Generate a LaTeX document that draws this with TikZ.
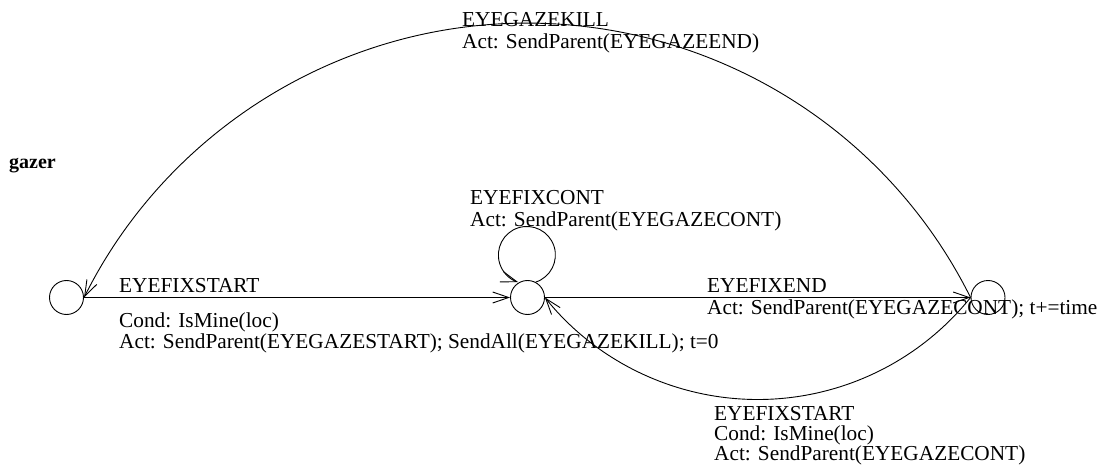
\documentclass[tikz,border=0pt]{standalone}
\usepackage{fontspec}
\setmainfont{Liberation Serif}
\usetikzlibrary{arrows.meta}
\begin{document}
\begin{tikzpicture}[x=1pt,y=1pt,
  state/.style={circle, draw, line width=0.9pt, minimum size=34pt, inner sep=0pt},
  lbl/.style={anchor=base west, inner sep=0pt, font=\fontsize{21.3}{24}\selectfont},
  ttl/.style={anchor=base west, inner sep=0pt, font=\fontsize{20}{24}\selectfont\bfseries},
  trans/.style={line width=0.9pt, -{Straight Barb[length=16pt,width=11pt]}}]
\useasboundingbox (0,0) rectangle (1101,472);
\node[state] (A) at (66.5,174.5) {};
\node[state] (B) at (527.5,174.5) {};
\node[state] (C) at (988,174.5) {};
% transitions
\draw[trans] (A) -- (B);
\draw[trans] (B) -- (C);
\draw[trans] (C.west) arc[start angle=26.5, end angle=153.5, radius=495.3];
\draw[trans] (C.west) arc[start angle=-38.78, end angle=-141.22, radius=273];
\draw[trans] (B.62) arc[start angle=-72, end angle=252, radius=28.5];
% labels
\node[ttl] (gazer) at (9,303) {gazer};
\node[lbl] (kill1) at (462,445) {EYEGAZEKILL};
\node[lbl] (kill2) at (462,423) {Act: SendParent(EYEGAZEEND)};
\node[lbl] (cont1) at (470,267) {EYEFIXCONT};
\node[lbl] (cont2) at (470,245) {Act: SendParent(EYEGAZECONT)};
\node[lbl] (start1) at (119,180) {EYEFIXSTART};
\node[lbl] (start2) at (119,145) {Cond: IsMine(loc)};
\node[lbl] (start3) at (119,124) {Act: SendParent(EYEGAZESTART); SendAll(EYEGAZEKILL); t=0};
\node[lbl] (end1) at (707,180) {EYEFIXEND};
\node[lbl] (end2) at (707,158) {Act: SendParent(EYEGAZECONT); t+=time};
\node[lbl] (back1) at (714,52) {EYEFIXSTART};
\node[lbl] (back2) at (714,32) {Cond: IsMine(loc)};
\node[lbl] (back3) at (714,12) {Act: SendParent(EYEGAZECONT)};
\end{tikzpicture}
\end{document}
